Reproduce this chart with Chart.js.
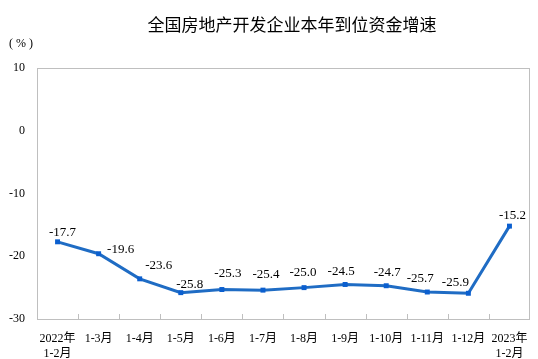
<!DOCTYPE html>
<html><head><meta charset="utf-8">
<script src="https://cdn.jsdelivr.net/npm/chart.js@4/dist/chart.umd.min.js"></script>
<style>html,body{margin:0;padding:0;background:#fff}#wrap{width:538px;height:359px}</style>
</head><body><div id="wrap"><canvas id="c" width="538" height="359"></canvas></div>
<script>
const titleText = '全国房地产开发企业本年到位资金增速';
const unitText = '( % )';
const categories = [['2022年','1-2月'],'1-3月','1-4月','1-5月','1-6月','1-7月','1-8月','1-9月','1-10月','1-11月','1-12月',['2023年','1-2月']];
const values = [-17.7,-19.6,-23.6,-25.8,-25.3,-25.4,-25.0,-24.5,-24.7,-25.7,-25.9,-15.2];
const yTicks = [10,0,-10,-20,-30];

const serif = '"Liberation Serif","Times New Roman","Noto Sans CJK SC",serif';
const lineColor = '#1f6cc4';
// data-label placement relative to each point (style only)
const labelShift = [[5,-9],[22,-4],[19,-13],[9,-8],[6,-16],[3,-16],[-1,-15],[-4,-13],[1,-13],[-7,-13],[-13,-11],[3,-11]];

const deco = {
  id:'deco',
  afterDraw(chart){
    const {ctx, chartArea:a, scales:{x}} = chart;
    ctx.save();
    ctx.strokeStyle = '#bfbfbf'; ctx.lineWidth = 1;
    ctx.strokeRect(Math.round(a.left)+0.5, Math.round(a.top)+0.5, Math.round(a.right-a.left)-1, Math.round(a.bottom-a.top));
    const w = x.getPixelForValue(1) - x.getPixelForValue(0);
    for (let i=1;i<categories.length;i++){
      const px = Math.round(x.getPixelForValue(i) - w/2)+0.5;
      ctx.beginPath(); ctx.moveTo(px, a.bottom); ctx.lineTo(px, a.bottom-5); ctx.stroke();
    }
    ctx.fillStyle = '#000';
    ctx.font = '17px "Noto Sans CJK SC",sans-serif';
    ctx.textAlign='center'; ctx.textBaseline='middle';
    ctx.fillText(titleText, 292, 25);
    ctx.font = '12px ' + serif;
    ctx.fillText(unitText, 21, 44);
    const meta = chart.getDatasetMeta(0);
    ctx.font = '13px ' + serif;
    meta.data.forEach((p,i)=>{
      const [dx,dy] = labelShift[i];
      ctx.fillText(values[i].toFixed(1), p.x+dx, p.y+dy);
    });
    ctx.restore();
  }
};

new Chart(document.getElementById('c'), {
  type:'line',
  data:{labels:categories, datasets:[{
    data:values, borderColor:lineColor, borderWidth:3, tension:0,
    pointStyle:'rect', pointRadius:3.5, pointBackgroundColor:'#0b5fcf', pointBorderColor:'#0b5fcf', pointBorderWidth:0
  }]},
  options:{
    responsive:false, animation:false, devicePixelRatio:1,
    layout:{padding:{top:68,right:8,left:0,bottom:0}},
    plugins:{legend:{display:false}, tooltip:{enabled:false}},
    scales:{
      x:{
        offset:true,
        grid:{display:false},
        border:{display:false},
        ticks:{font:{family:serif,size:12}, color:'#000', maxRotation:0, autoSkip:false, padding:5},
        afterFit(s){ s.height = 40; }
      },
      y:{
        min:-30, max:10,
        afterBuildTicks(s){ s.ticks = yTicks.map(v=>({value:v})); },
        grid:{display:false},
        border:{display:false},
        ticks:{font:{family:serif,size:12}, color:'#000', padding:4},
        afterFit(s){ s.width = 37; }
      }
    }
  },
  plugins:[deco]
});
</script></body></html>
